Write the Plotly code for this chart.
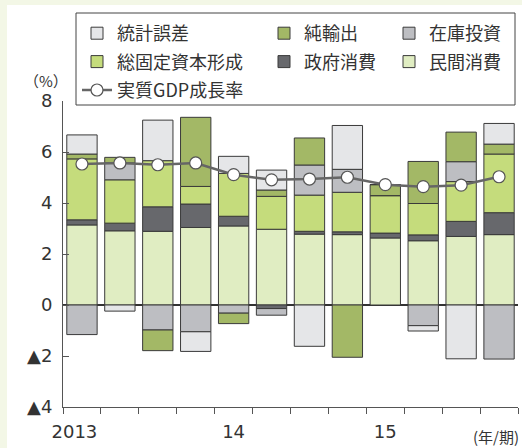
import plotly.graph_objects as go

quarters = list(range(1, 13))
year_labels = ["2013", "14", "15"]
year_label_quarters = [1, 5, 9]
y_tick_vals = [-4, -2, 0, 2, 4, 6, 8]
y_tick_text = ["▲4", "▲2", "0", "2", "4", "6", "8"]

private_consumption = [3.14, 2.91, 2.89, 3.04, 3.10, 2.97, 2.78, 2.76, 2.63, 2.52, 2.69, 2.76]
government_consumption = [0.20, 0.30, 0.96, 0.92, 0.38, -0.14, 0.11, 0.11, 0.19, 0.23, 0.59, 0.86]
fixed_capital = [2.39, 1.70, 1.81, 0.69, 1.68, 1.29, 1.42, 1.55, 1.47, 1.23, 1.56, 2.30]
inventory = [-1.16, 0.66, -0.98, -1.05, -0.32, -0.26, 1.18, 0.90, 0.0, -0.81, 0.78, -2.12]
net_exports = [0.19, 0.22, -0.81, 2.71, -0.41, 0.25, 1.06, -2.05, 0.43, 1.65, 1.16, 0.39]
statistical_discrepancy = [0.75, -0.24, 1.59, -0.77, 0.67, 0.78, -1.62, 1.72, 0.0, -0.21, -2.11, 0.81]
real_gdp_growth = [5.53, 5.57, 5.50, 5.57, 5.11, 4.91, 4.94, 5.01, 4.72, 4.64, 4.70, 5.03]

W, H = 522, 448
ML, MR, MT, MB = 63, 4, 101, 41
PW = W - ML - MR
PH = H - MT - MB

def px_x(p):
    return (p - ML) / PW

def px_y(p):
    return (H - MB - p) / PH

CJK = "Noto Sans CJK JP"
TXT = "#333333"

series = [
    ("民間消費", private_consumption, "#e0edc2", "legend3", 2),
    ("政府消費", government_consumption, "#67686c", "legend2", 2),
    ("総固定資本形成", fixed_capital, "#c5dc7c", "legend", 2),
    ("在庫投資", inventory, "#bdbec2", "legend3", 1),
    ("純輸出", net_exports, "#a3b866", "legend2", 1),
    ("統計誤差", statistical_discrepancy, "#e5e6e8", "legend", 1),
]

fig = go.Figure()
for name, vals, color, leg, rank in series:
    fig.add_trace(go.Bar(
        x=quarters, y=vals, name=name, width=0.8,
        marker=dict(color=color, line=dict(color="#3a3a3a", width=1)),
        legend=leg, legendrank=rank, legendgroup=name,
    ))

fig.add_trace(go.Scatter(
    x=quarters, y=real_gdp_growth, name="実質GDP成長率", mode="lines+markers",
    line=dict(color="#666666", width=2.5),
    marker=dict(size=12, color="white", line=dict(color="#555555", width=1.2)),
    legend="legend", legendrank=3, legendgroup="gdp",
))

leg_common = dict(
    orientation="v", xanchor="left", yanchor="top",
    bgcolor="rgba(0,0,0,0)", borderwidth=0,
    font=dict(family=CJK, size=18, color=TXT),
    traceorder="grouped", tracegroupgap=2,
)

# first year label sits a little left of its quarter centre, as in the source
label_positions = [q - (0.2 if i == 0 else 0.0) for i, q in enumerate(year_label_quarters)]

fig.update_layout(
    width=W, height=H,
    margin=dict(l=ML, r=MR, t=MT, b=MB, pad=0),
    paper_bgcolor="#f3f7e6", plot_bgcolor="white",
    barmode="relative", bargap=0.2,
    font=dict(family="DejaVu Sans", color=TXT),
    legend=dict(x=px_x(77), y=px_y(15), **leg_common),
    legend2=dict(x=px_x(264), y=px_y(15), **leg_common),
    legend3=dict(x=px_x(389), y=px_y(15), **leg_common),
    xaxis=dict(
        range=[0.5, 12.5], showgrid=False, zeroline=False,
        showline=True, linecolor="#555555", linewidth=1,
        tickvals=label_positions, ticktext=year_labels, ticks="",
        ticklabelstandoff=8,
        tickfont=dict(family="DejaVu Sans", size=18, color=TXT),
        minor=dict(tick0=0.5, dtick=1, ticks="outside", ticklen=6, tickcolor="#555555", tickwidth=1),
    ),
    yaxis=dict(
        range=[-4, 8], tickvals=y_tick_vals, ticktext=y_tick_text,
        ticks="inside", ticklen=6, tickcolor="#555555",
        ticklabelstandoff=6,
        showgrid=False, showline=True, linecolor="#555555", linewidth=1,
        zeroline=True, zerolinecolor="#333333", zerolinewidth=1.5,
        tickfont=dict(family="DejaVu Sans", size=18, color=TXT),
    ),
    shapes=[
        dict(type="rect", xref="paper", yref="paper",
             x0=px_x(7), x1=px_x(W + 5), y0=px_y(H + 5), y1=px_y(5),
             fillcolor="white", line=dict(width=0), layer="below"),
        dict(type="rect", xref="paper", yref="paper",
             x0=px_x(76), x1=px_x(515), y0=px_y(105), y1=px_y(13),
             fillcolor="rgba(0,0,0,0)", line=dict(color="#444444", width=1), layer="above"),
    ],
    annotations=[
        dict(text="（%）", xref="paper", yref="paper", x=px_x(46), y=px_y(80),
             showarrow=False, font=dict(family=CJK, size=15, color=TXT),
             xanchor="center", yanchor="middle"),
        dict(text="(年/期)", xref="paper", yref="paper", x=px_x(521), y=px_y(436),
             showarrow=False, font=dict(family=CJK, size=15, color=TXT),
             xanchor="right", yanchor="middle"),
    ],
)

fig.write_html("out.html", config={"displayModeBar": False},
               post_script="document.body.style.margin='0';")
